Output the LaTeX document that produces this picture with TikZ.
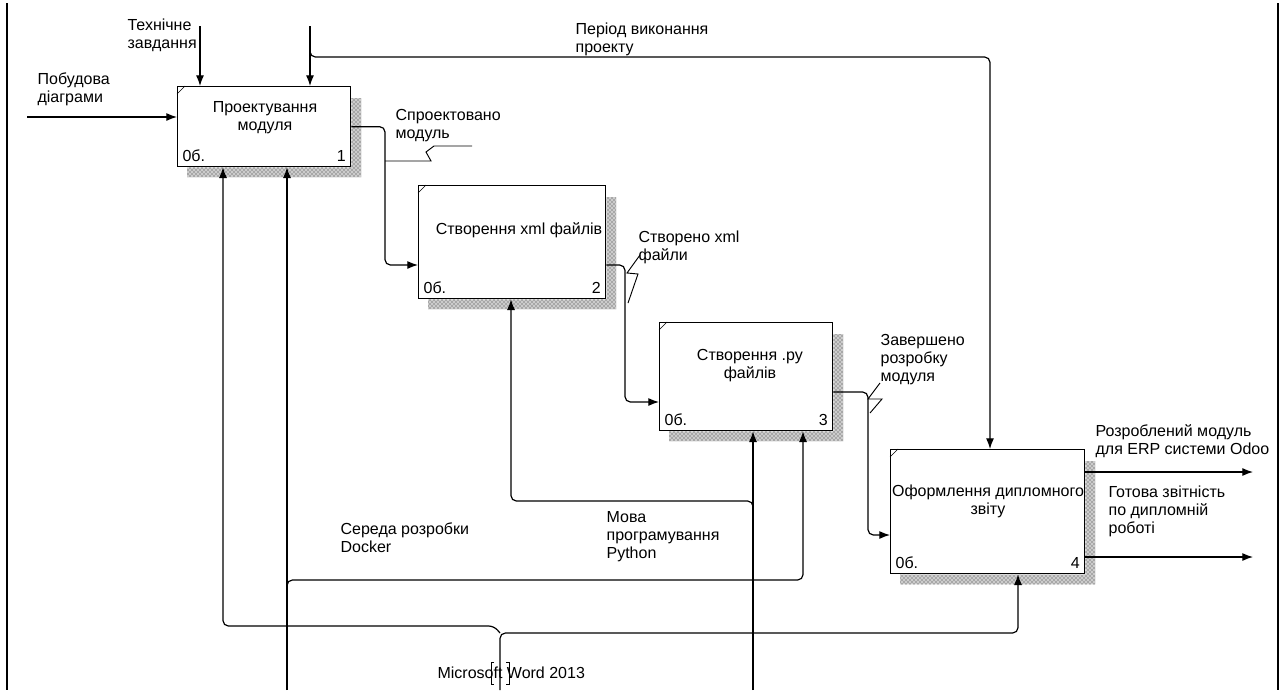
\documentclass[tikz,border=0pt]{standalone}
\usepackage{fontspec}
\setmainfont{Liberation Sans}
\usetikzlibrary{calc, positioning, arrows.meta, patterns}

\newcommand{\boxshade}[1]{\fill[gray!40] ($(#1.north east)+(0,12)$) -- ++(10,0) |- ($(#1.south west)+(10,10)$) -- ++(0,-10) -- (#1.south east) -- cycle;
  \fill[pattern=crosshatch dots, pattern color=black!80] ($(#1.north east)+(0,12)$) -- ++(10,0) |- ($(#1.south west)+(10,10)$) -- ++(0,-10) -- (#1.south east) -- cycle;
  \draw[thin] ($(#1.north west)+(0,8)$) -- ++(8,-8);}

\begin{document}
\begin{tikzpicture}[x=0.75pt, y=-0.75pt, line width=0.9pt, > = {Latex[length=8pt,width=6pt]},
    font=\fontsize{12}{13.5}\selectfont,
    func/.style={draw, line width=1pt, fill=white, anchor=north west, inner sep=0pt},
    lbl/.style={anchor=north west, align=left, inner sep=0pt},
    ttl/.style={align=center, inner sep=0pt},
    num/.style={inner sep=0pt},
    squig/.style={line width=0.7pt}]
    \useasboundingbox (0,0) rectangle (1288,690);
    % frame
    \draw (7,3) -- (7,690);
    \draw (1278,3) -- (1278,690);
    % functions
    \node[func, minimum width=129.75pt, minimum height=60pt] (p1) at (177,86) {};
    \node[func, minimum width=140.25pt, minimum height=84.75pt] (p2) at (418,185) {};
    \node[func, minimum width=129.75pt, minimum height=81pt] (p3) at (659,322) {};
    \node[func, minimum width=145.5pt, minimum height=93pt] (p4) at (890,449) {};
    \boxshade{p1} \boxshade{p2} \boxshade{p3} \boxshade{p4}
    \node[ttl] (t1) at (265,118) {Проектування\\модуля};
    \node[ttl] (t2) at (519,230) {Створення xml файлів};
    \node[ttl] (t3) at (750,366) {Створення .py\\файлів};
    \node[ttl] (t4) at (988,501) {Оформлення дипломного\\звіту};
    \node[num, anchor=base west] (a1) at ($(p1.south west)+(5,-6)$) {0б.};
    \node[num, anchor=base east] (b1) at ($(p1.south east)+(-5,-6)$) {1};
    \node[num, anchor=base west] (a2) at ($(p2.south west)+(5,-6)$) {0б.};
    \node[num, anchor=base east] (b2) at ($(p2.south east)+(-5,-6)$) {2};
    \node[num, anchor=base west] (a3) at ($(p3.south west)+(5,-6)$) {0б.};
    \node[num, anchor=base east] (b3) at ($(p3.south east)+(-5,-6)$) {3};
    \node[num, anchor=base west] (a4) at ($(p4.south west)+(5,-6)$) {0б.};
    \node[num, anchor=base east] (b4) at ($(p4.south east)+(-5,-6)$) {4};
    % labels
    \node[lbl] (l1) at (37,72) {Побудова\\діаграми};
    \node[lbl] (l2) at (127,18) {Технічне\\завдання};
    \node[lbl] (l3) at (575,22) {Період виконання\\проекту};
    \node[lbl] (l4) at (395,109) {Спроектовано\\модуль};
    \node[lbl] (l5) at (638,230) {Створено xml\\файли};
    \node[lbl] (l6) at (880,334) {Завершено\\розробку\\модуля};
    \node[lbl] (l7) at (1095,424) {Розроблений модуль\\для ERP системи Odoo};
    \node[lbl] (l8) at (1108,485) {Готова звітність\\по дипломній\\роботі};
    \node[lbl] (l9) at (340,522) {Середа розробки\\Docker};
    \node[lbl] (l10) at (606,511) {Мова\\програмування\\Python};
    \node[anchor=west, inner sep=0pt] (l11) at (437,673) {Microsoft Word 2013};
    % free ends and bends
    \coordinate (in1) at (27,117);
    \coordinate (ct) at (200,26);
    \coordinate (cp) at (310,26);
    \coordinate (kp) at (990,57);
    \coordinate (k1) at (385,265);
    \coordinate (k2) at (625,402);
    \coordinate (k3) at (868,535);
    \coordinate (o1) at (1253,472);
    \coordinate (o2) at (1253,557);
    \coordinate (wd) at (500,690);
    \coordinate (dk) at (287,690);
    \coordinate (py) at (753,690);
    % inputs and controls
    \draw[->] (in1) -- (in1 -| p1.west);
    \draw[->] (ct) -- (ct |- p1.north);
    \draw[->] (cp) -- (cp |- p1.north);
    \draw[->, rounded corners=4pt] ($(cp)+(0,22)$) |- (kp) -- (kp |- p4.north);
    % outputs
    \draw[->, rounded corners=4pt] (p1.east) -| (k1) -- (k1 -| p2.west);
    \draw[->, rounded corners=4pt] (p2.east |- k1) -| (k2) -- (k2 -| p3.west);
    \draw[->, rounded corners=4pt] (p3.east |- 0,392) -| (k3) -- (k3 -| p4.west);
    \draw[->] (o1 -| p4.east) -- (o1);
    \draw[->] (o2 -| p4.east) -- (o2);
    % mechanisms
    \draw[->] (dk) -- (dk |- p1.south);
    \draw[->, rounded corners=4pt] ($(dk)+(0,-98)$) |- (803,580) -- (p3.south -| 803,0);
    \draw[->] (py) -- (py |- p3.south);
    \draw[->, rounded corners=4pt] ($(py)+(0,-178)$) |- (511,501) -- (p2.south -| 511,0);
    \draw[->, rounded corners=4pt] (wd) |- (1018,633) -- (p4.south -| 1018,0);
    \draw[->, rounded corners=4pt] ($(wd)+(0,-57)$) -- (494,626) -| (p1.south -| 223,0);
    % tunnel brackets
    \draw[squig] (494,662) -- (491,662) -- (491,684) -- (494,684);
    \draw[squig] (506,662) -- (509,662) -- (509,684) -- (506,684);
    % squiggles
    \draw[squig] (385,161) -- (431,161) -- (426,152) -- (434,146) -- (472,146);
    \draw[squig] (640,255) -- (627,273) -- (638,274) -- (628,303);
    \draw[squig] (880,383) -- (868,399) -- (882,399) -- (870,413);
\end{tikzpicture}
\end{document}
